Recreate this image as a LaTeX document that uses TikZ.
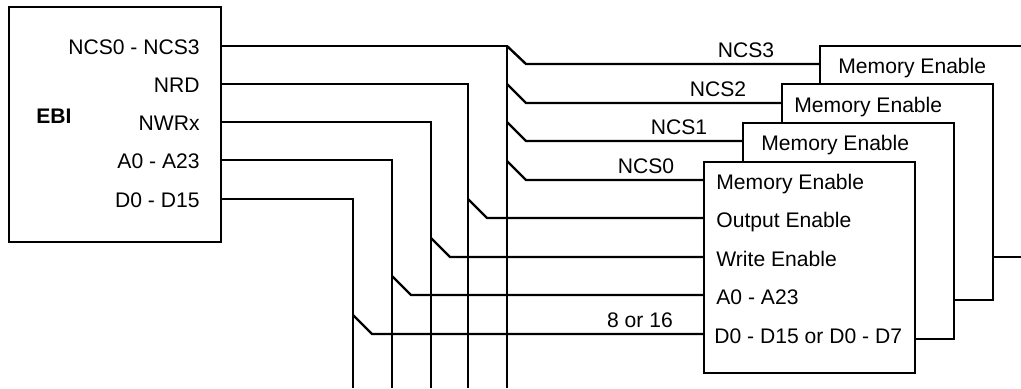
\documentclass[tikz,border=0pt]{standalone}
\usepackage{fontspec}
\setmainfont{Liberation Sans}
\usetikzlibrary{calc}

\tikzset{
	wire/.style={line width=1.2pt},
	chip/.style={draw, line width=1.2pt, fill=white, anchor=north west, inner sep=0pt, minimum width=105.5pt},
	lbl/.style={inner sep=0pt, font=\fontsize{10.55}{12}\selectfont},
}

\begin{document}
\begin{tikzpicture}[x=0.5pt, y=-0.5pt]
		%%%%% START %%%%%
		\path[use as bounding box, clip] (0, 0) rectangle (1021, 388);
		
		% controller
		\node[chip, minimum width=106pt, minimum height=117.5pt] (ebi) at (8, 6) {};
		\node[lbl, anchor=base west, font=\fontsize{10.55}{12}\selectfont\bfseries] (ebiname) at (36, 123) {EBI};
		\node[lbl, anchor=base east] (lcs) at (200, 54) {NCS0 - NCS3};
		\node[lbl, anchor=base east] (lrd) at (200, 92) {NRD};
		\node[lbl, anchor=base east] (lwr) at (200, 130) {NWRx};
		\node[lbl, anchor=base east] (lad) at (200, 168) {A0 - A23};
		\node[lbl, anchor=base east] (ldb) at (200, 207) {D0 - D15};
		
		\coordinate (pcs) at (220, 46);
		\coordinate (prd) at (220, 84);
		\coordinate (pwr) at (220, 122);
		\coordinate (pad) at (220, 160);
		\coordinate (pdb) at (220, 199);
		
		% bus lines, down to the bottom edge
		\coordinate (bcs) at (507, 388);
		\coordinate (brd) at (468, 388);
		\coordinate (bwr) at (431, 388);
		\coordinate (bad) at (392, 388);
		\coordinate (bdb) at (353, 388);
		
		\draw[wire] (pcs) -| (bcs);
		\draw[wire] (prd) -| (brd);
		\draw[wire] (pwr) -| (bwr);
		\draw[wire] (pad) -| (bad);
		\draw[wire] (pdb) -| (bdb);
		
		% memories, back to front
		\node[chip, minimum height=105.5pt] (mem3) at (819, 45) {};
		\node[chip, minimum height=108pt] (mem2) at (781, 83) {};
		\node[chip, minimum height=108pt] (mem1) at (742, 122) {};
		\node[chip, minimum height=105.5pt] (mem0) at (703, 161) {};
		
		\node[lbl, anchor=base west] (tme3) at (838, 73) {Memory Enable};
		\node[lbl, anchor=base west] (tme2) at (794, 112) {Memory Enable};
		\node[lbl, anchor=base west] (tme1) at (761, 150) {Memory Enable};
		\node[lbl, anchor=base west] (tme0) at (716, 189) {Memory Enable};
		\node[lbl, anchor=base west] (toe) at (716, 227) {Output Enable};
		\node[lbl, anchor=base west] (twe) at (716, 266) {Write Enable};
		\node[lbl, anchor=base west] (tad) at (716, 304) {A0 - A23};
		\node[lbl, anchor=base west] (tdb) at (714, 343) {D0 - D15 or D0 - D7};
		
		\coordinate (me3) at (819, 64);
		\coordinate (me2) at (781, 103);
		\coordinate (me1) at (742, 141);
		\coordinate (me0) at (703, 180);
		\coordinate (moe) at (703, 218);
		\coordinate (mwe) at (703, 257);
		\coordinate (mad) at (703, 295);
		\coordinate (mdb) at (703, 334);
		
		% branches off the bus
		\draw[wire] (bcs |- me3) ++(0, -18) -- ++(19, 18) -- (me3);
		\draw[wire] (bcs |- me2) ++(0, -19) -- ++(19, 19) -- (me2);
		\draw[wire] (bcs |- me1) ++(0, -19) -- ++(19, 19) -- (me1);
		\draw[wire] (bcs |- me0) ++(0, -19) -- ++(19, 19) -- (me0);
		\draw[wire] (brd |- moe) ++(0, -19) -- ++(19, 19) -- (moe);
		\draw[wire] (bwr |- mwe) ++(0, -19) -- ++(19, 19) -- (mwe);
		\draw[wire] (bad |- mad) ++(0, -19) -- ++(19, 19) -- (mad);
		\draw[wire] (bdb |- mdb) ++(0, -19) -- ++(19, 19) -- (mdb);
		
		\node[lbl, anchor=base] (ncs3) at (746, 57) {NCS3};
		\node[lbl, anchor=base] (ncs2) at (718, 96) {NCS2};
		\node[lbl, anchor=base] (ncs1) at (679, 134) {NCS1};
		\node[lbl, anchor=base] (ncs0) at (646, 173) {NCS0};
		\node[lbl, anchor=base] (width) at (640, 327) {8 or 16};
		%%%%% END %%%%%
\end{tikzpicture}
\end{document}
